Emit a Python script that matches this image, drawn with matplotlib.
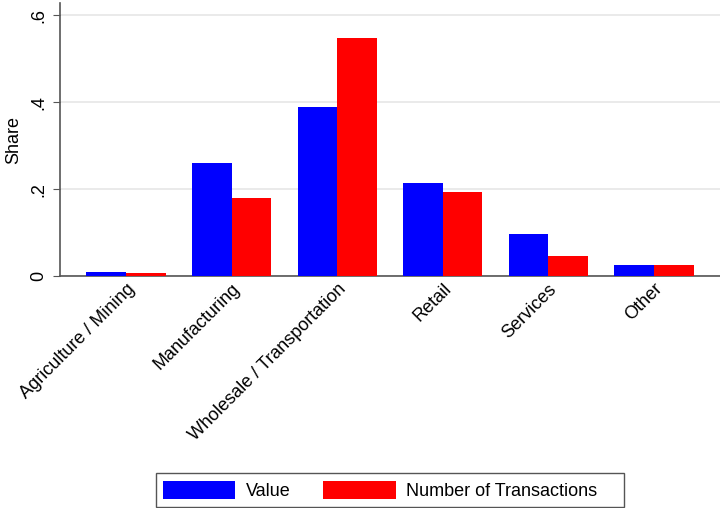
import matplotlib
matplotlib.use("Agg")
import matplotlib.pyplot as plt
from matplotlib.patches import Rectangle
import numpy as np

categories = ["Agriculture / Mining", "Manufacturing", "Wholesale / Transportation",
              "Retail", "Services", "Other"]
value_share = [0.011, 0.260, 0.388, 0.215, 0.098, 0.027]
transactions_share = [0.007, 0.181, 0.548, 0.194, 0.046, 0.027]
yticks = [0, 0.2, 0.4, 0.6]
ytick_labels = ["0", ".2", ".4", ".6"]

plt.rcParams['font.family'] = ['Liberation Sans', 'DejaVu Sans']

fig = plt.figure(figsize=(7.2, 5.08), dpi=100)
ax = fig.add_axes([60/720, 1 - 276.3/508, 660/720, (276.3 - 3)/508])

x = np.arange(len(categories))
w = 0.375
ax.bar(x - w/2, value_share, width=w, color="#0000ff", label="Value", zorder=3)
ax.bar(x + w/2, transactions_share, width=w, color="#ff0000", label="Number of Transactions", zorder=3)

ax.set_xlim(-0.626, len(categories) - 1 + 0.626)
ax.set_ylim(0, 0.6 + 19.7/422.5*0.6)
ax.set_yticks(yticks)
ax.set_yticklabels(ytick_labels, rotation=90, va="center", fontsize=13)
ax.yaxis.grid(True, color="#e6e6e6", linewidth=1.2, zorder=0)
ax.set_axisbelow(True)
ax.set_xticks(x)
ax.set_xticklabels(categories, rotation=45, ha="right", rotation_mode="anchor", fontsize=13)
ax.tick_params(axis="x", length=0, pad=3)
ax.tick_params(axis="y", length=5, color="#555555", pad=4)
ax.set_ylabel("Share", fontsize=13, labelpad=6)

for s in ["top", "right"]:
    ax.spines[s].set_visible(False)
for s in ["left", "bottom"]:
    ax.spines[s].set_color("#555555")
    ax.spines[s].set_linewidth(1.2)

leg = fig.legend(loc="center left", bbox_to_anchor=(163/720, 1 - 490.5/508), ncol=2,
                 fontsize=13, frameon=False,
                 handlelength=4.0, handleheight=1.2, handletextpad=0.6, columnspacing=1.8,
                 borderpad=0.0, borderaxespad=0.0)
fig.add_artist(Rectangle((156/720, 1 - 507/508), 468/720, 34/508, transform=fig.transFigure,
                         fill=False, edgecolor="#555555", linewidth=1.0))

fig.savefig("out.png", dpi=100)
